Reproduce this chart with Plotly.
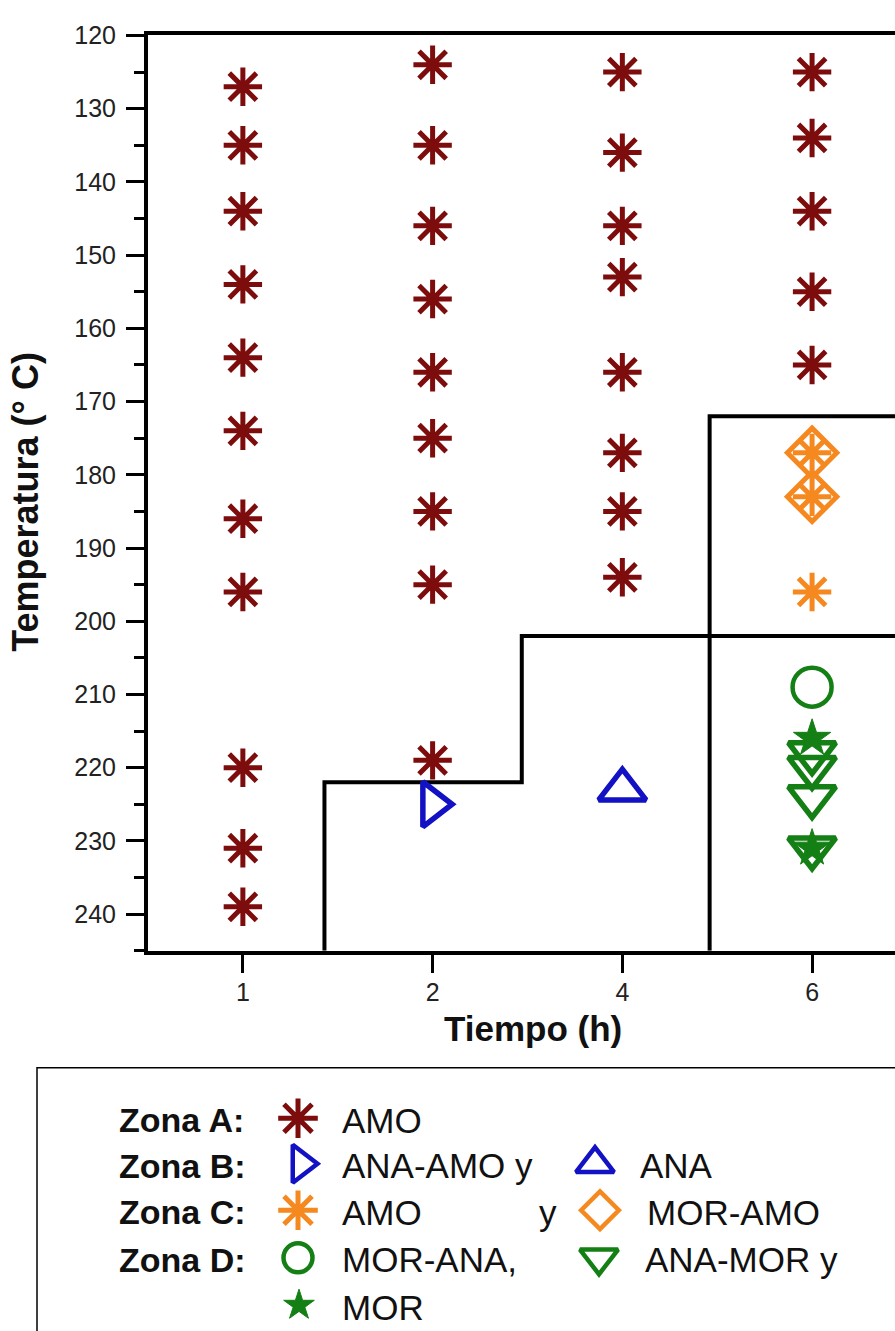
import plotly.graph_objects as go

# ---------------- data ----------------
time_labels = ['1', '2', '4', '6']          # Tiempo (h)

# Zona A: AMO
zonaA_amo_time = ['1'] * 11 + ['2'] * 9 + ['4'] * 8 + ['6'] * 5
zonaA_amo_temp = [127, 135, 144, 154, 164, 174, 186, 196, 220, 231, 239,
                  124, 135, 146, 156, 166, 175, 185, 195, 219,
                  125, 136, 146, 153, 166, 177, 185, 194,
                  125, 134, 144, 155, 165]

# Zona B: ANA-AMO y ANA
zonaB_anaamo_time = ['2']
zonaB_anaamo_temp = [225]
zonaB_ana_time = ['4']
zonaB_ana_temp = [223]

# Zona C: AMO y MOR-AMO
zonaC_moramo_time = ['6', '6']
zonaC_moramo_temp = [177, 183]
zonaC_amo_time = ['6', '6', '6']
zonaC_amo_temp = [177, 183, 196]

# Zona D: MOR-ANA, ANA-MOR y MOR
zonaD_morana_time = ['6']
zonaD_morana_temp = [209]
zonaD_anamor_time = ['6', '6', '6', '6']
zonaD_anamor_temp = [218, 220, 224, 231]
zonaD_mor_time = ['6', '6']
zonaD_mor_temp = [216, 231]

# zone boundaries (x in category-index units, y in deg C)
border1_x = [0.43, 0.43, 1.47, 1.47, 3.6]
border1_y = [245, 222, 222, 202, 202]
border2_x = [2.46, 2.46, 3.6]
border2_y = [245, 172, 172]

# ---------------- style ----------------
MAROON = '#7d0c0c'
BLUE = '#1212c4'
ORANGE = '#f5891f'
GREEN = '#147f14'
FONT = 'Liberation Sans, Arial, sans-serif'

W, H = 895, 1331


def idx(ts):
    return [time_labels.index(t) for t in ts]


fig = go.Figure()


def add_pts(ts, ys, symbol, color, size, lw, xaxis='x', yaxis='y'):
    fig.add_trace(go.Scatter(
        x=idx(ts) if xaxis == 'x' else ts, y=ys, mode='markers',
        xaxis=xaxis, yaxis=yaxis, showlegend=False, hoverinfo='skip',
        marker=dict(symbol=symbol, size=size, color=color,
                    line=dict(color=color, width=lw))))


# boundaries
fig.add_trace(go.Scatter(x=border1_x, y=border1_y, mode='lines',
                         line=dict(color='black', width=4), showlegend=False, hoverinfo='skip'))
fig.add_trace(go.Scatter(x=border2_x, y=border2_y, mode='lines',
                         line=dict(color='black', width=4), showlegend=False, hoverinfo='skip'))

# data points
add_pts(zonaA_amo_time, zonaA_amo_temp, 'asterisk-open', MAROON, 32, 5)
add_pts(zonaB_anaamo_time, zonaB_anaamo_temp, 'triangle-right-open', BLUE, 39, 5.5)
add_pts(zonaB_ana_time, zonaB_ana_temp, 'triangle-up-open', BLUE, 41, 5.5)
add_pts(zonaC_moramo_time, zonaC_moramo_temp, 'diamond-open', ORANGE, 38, 5)
add_pts(zonaC_amo_time, zonaC_amo_temp, 'asterisk-open', ORANGE, 32, 5)
add_pts(zonaD_morana_time, zonaD_morana_temp, 'circle-open', GREEN, 39, 4.5)
add_pts(zonaD_anamor_time, zonaD_anamor_temp, 'triangle-down-open', GREEN, 41, 5.5)
add_pts(zonaD_mor_time, zonaD_mor_temp, 'star', GREEN, 28, 1)

# ---------------- legend (drawn in pixel coordinates on x2/y2) ----------------
leg_rows = [1118, 1164, 1211, 1259, 1307]
leg_items = [
    # (x, row, symbol, color, size, lw)
    (298, 0, 'asterisk-open', MAROON, 33, 5),
    (301, 1, 'triangle-right-open', BLUE, 33, 4.5),
    (595, 1, 'triangle-up-open', BLUE, 33, 4.5),
    (298, 2, 'asterisk-open', ORANGE, 33, 5),
    (600, 2, 'diamond-open', ORANGE, 29, 4.5),
    (298, 3, 'circle-open', GREEN, 29, 4.5),
    (599, 3, 'triangle-down-open', GREEN, 33, 4.5),
    (299, 4, 'star', GREEN, 23, 1),
]
for (lx, r, sym, col, sz, lw) in leg_items:
    add_pts([lx], [leg_rows[r] - 2], sym, col, sz, lw, xaxis='x2', yaxis='y2')

leg_texts = [
    (117, 0, '<b>Zona A:</b>'), (340, 0, 'AMO'),
    (117, 1, '<b>Zona B:</b>'), (340, 1, 'ANA-AMO y'), (638, 1, 'ANA'),
    (117, 2, '<b>Zona C:</b>'), (340, 2, 'AMO'), (537, 2, 'y'), (645, 2, 'MOR-AMO'),
    (117, 3, '<b>Zona D:</b>'), (340, 3, 'MOR-ANA,'), (643, 3, 'ANA-MOR y'),
    (340, 4, 'MOR'),
]
annotations = []
for (tx, r, t) in leg_texts:
    annotations.append(dict(x=tx, y=leg_rows[r], xref='x2', yref='y2', text=t,
                            showarrow=False, xanchor='left', yanchor='middle',
                            font=dict(family=FONT, size=35 if '<b>' not in t else 34, color='#111')))

# axis titles
annotations.append(dict(x=533, y=1025, xref='x2', yref='y2', text='<b>Tiempo (h)</b>',
                        showarrow=False, xanchor='center', yanchor='middle',
                        font=dict(family=FONT, size=35, color='#111')))
annotations.append(dict(x=26, y=493, xref='x2', yref='y2', text='<b>Temperatura (° C)</b>',
                        showarrow=False, xanchor='center', yanchor='middle', textangle=-90,
                        font=dict(family=FONT, size=36, color='#111')))

fig.update_layout(
    width=W, height=H,
    margin=dict(l=0, r=0, t=0, b=0),
    paper_bgcolor='white', plot_bgcolor='rgba(0,0,0,0)',
    font=dict(family=FONT, color='#222'),
    annotations=annotations,
    shapes=[dict(type='rect', xref='x2', yref='y2', x0=37, y0=1065, x1=1200, y1=1500,
                 line=dict(color='black', width=1.5), fillcolor='rgba(0,0,0,0)')],
    xaxis=dict(domain=[148 / W, 1], range=[-0.5, 3.437],
               tickmode='array', tickvals=list(range(len(time_labels))), ticktext=time_labels,
               ticks='outside', ticklen=18, tickwidth=3, tickcolor='black',
               ticklabelstandoff=-2,
               tickfont=dict(size=25, family=FONT, color='#222'),
               showline=True, linewidth=4, linecolor='black', mirror=True,
               showgrid=False, zeroline=False, anchor='y'),
    yaxis=dict(domain=[(H - 946.7) / H, 1 - 21.7 / H], range=[245, 120],
               tick0=120, dtick=10,
               ticks='outside', ticklen=18, tickwidth=3, tickcolor='black',
               ticklabelstandoff=5,
               minor=dict(dtick=5, ticks='outside', ticklen=10, tickwidth=3, tickcolor='black'),
               tickfont=dict(size=25, family=FONT, color='#222'),
               showline=True, linewidth=4, linecolor='black', mirror=False,
               showgrid=False, zeroline=False, anchor='x'),
    xaxis2=dict(domain=[0, 1], range=[0, W], visible=False, anchor='y2', fixedrange=True),
    yaxis2=dict(domain=[0, 1], range=[H, 0], visible=False, anchor='x2', fixedrange=True),
)

fig.write_html('out.html', config={'displayModeBar': False},
               post_script="document.body.style.margin='0';document.body.style.padding='0';")
